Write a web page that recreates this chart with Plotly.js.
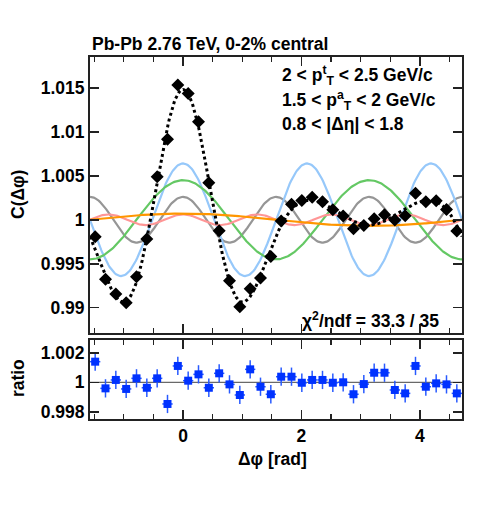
<!DOCTYPE html>
<html><head><meta charset="utf-8">
<script src="https://cdn.plot.ly/plotly-3.0.1.min.js"></script>
<style>html,body{margin:0;padding:0;background:#fff;} #chart{width:488px;height:509px;}</style>
</head><body><div id="chart"></div>
<script>
// ---- data ----
const nBins = 36;
const dphiMin = -Math.PI / 2;
const dphiMax = 3 * Math.PI / 2;
const corrValues = [
  0.99807, 0.99323, 0.99156, 0.99057, 0.99352, 0.99781, 1.00489, 1.00914, 1.01531,
  1.01436, 1.01114, 1.00420, 0.99875, 0.99307, 0.99011, 0.99216, 0.99337, 0.99582,
  0.99985, 1.00175, 1.00220, 1.00255, 1.00205, 1.00114, 1.00044, 0.99898, 0.99936,
  1.00011, 1.00057, 0.99997, 1.00045, 1.00300, 1.00205, 1.00216, 1.00118, 0.99872
];
const corrErrors = new Array(36).fill(0.0006);
const ratioValues = [
  1.00140, 0.99959, 1.00016, 0.99955, 1.00027, 0.99963, 1.00027, 0.99853, 1.00111,
  1.00011, 1.00054, 0.99963, 1.00061, 0.99986, 0.99914, 1.00088, 0.99970, 0.99919,
  1.00038, 1.00038, 0.99997, 1.00016, 1.00016, 0.99997, 1.00000, 0.99919, 0.99988,
  1.00065, 1.00065, 0.99948, 0.99925, 1.00111, 0.99970, 0.99993, 0.99986, 0.99925
];
const ratioErrors = new Array(36).fill(0.00062);
const harmonicOrders = [1, 2, 3, 4, 5];
const harmonicAmps = [0.0007, 0.0045, 0.0064, 0.0026, 0.0006];
const harmonicColors = ['rgb(255,150,0)', 'rgb(100,200,100)', 'rgb(150,200,250)', 'rgb(150,150,150)', 'rgb(255,150,150)'];
const yTicksTop = [0.99, 0.995, 1, 1.005, 1.01, 1.015];
const yTickTextTop = ['0.99', '0.995', '1', '1.005', '1.01', '1.015'];
const yTicksRatio = [0.998, 1, 1.002];
const yTickTextRatio = ['0.998', '1', '1.002'];
const xTicks = [0, 2, 4];
const titleText = 'Pb-Pb 2.76 TeV, 0-2% central';
const infoLines = ['2 < p<sup>t</sup><sub>T</sub> < 2.5 GeV/c', '1.5 < p<sup>a</sup><sub>T</sub> < 2 GeV/c', '0.8 < |Δη| < 1.8'];
const chi2Text = 'χ<sup>2</sup>/ndf = 33.3 / 35';

// ---- derived ----
const binW = (dphiMax - dphiMin) / nBins;
const binCenters = corrValues.map((_, i) => dphiMin + (i + 0.5) * binW);
const nCurve = 300;
const curveX = [];
for (let k = 0; k <= nCurve; k++) curveX.push(dphiMin + k * (dphiMax - dphiMin) / nCurve);

const traces = [];
const drawOrder = [3, 2, 1, 4, 0];
drawOrder.forEach(h => {
  traces.push({
    x: curveX,
    y: curveX.map(x => 1 + harmonicAmps[h] * Math.cos(harmonicOrders[h] * x)),
    mode: 'lines', line: {color: harmonicColors[h], width: 2.2},
    xaxis: 'x', yaxis: 'y', hoverinfo: 'skip'
  });
});
traces.push({
  x: curveX,
  y: curveX.map(x => 1 + harmonicAmps.reduce((s, a, h) => s + a * Math.cos(harmonicOrders[h] * x), 0)),
  mode: 'lines', line: {color: 'black', width: 3, dash: 'dot'},
  xaxis: 'x', yaxis: 'y'
});
traces.push({
  x: binCenters, y: corrValues, mode: 'markers',
  marker: {symbol: 'diamond', size: 10, color: 'black'},
  error_y: {type: 'data', array: corrErrors, color: 'black', thickness: 1.5, width: 0},
  error_x: {type: 'constant', value: binW / 2, color: 'black', thickness: 1.5, width: 0},
  xaxis: 'x', yaxis: 'y'
});
traces.push({
  x: binCenters, y: ratioValues, mode: 'markers',
  marker: {symbol: 'square', size: 8, color: 'rgb(0,50,255)'},
  error_y: {type: 'data', array: ratioErrors, color: 'rgb(40,90,255)', thickness: 1.5, width: 0},
  error_x: {type: 'constant', value: binW / 2, color: 'rgb(40,90,255)', thickness: 1.5, width: 0},
  xaxis: 'x2', yaxis: 'y2'
});

const axCol = '#222';
const fontFam = '"Liberation Sans", Arial, Helvetica, sans-serif';
const fs = 17.5;
const baseX = {
  range: [dphiMin, dphiMax], tickvals: xTicks, ticks: 'inside', ticklen: 9, tickwidth: 1.5, tickcolor: axCol,
  minor: {dtick: 0.5, tick0: 0, ticks: 'inside', ticklen: 5, tickwidth: 1.2, tickcolor: axCol},
  showline: true, linecolor: axCol, linewidth: 2, mirror: 'allticks', showgrid: false, zeroline: false
};
const baseY = {
  ticks: 'inside', ticklen: 9, tickwidth: 1.5, tickcolor: axCol,
  showline: true, linecolor: axCol, linewidth: 2, mirror: 'allticks', showgrid: false, zeroline: false,
  tickfont: {family: fontFam, size: fs, weight: 'bold', color: '#000'}
};
const txtFont = {family: fontFam, size: fs, weight: 'bold', color: '#000'};
const annotations = [
  {text: titleText, xref: 'paper', yref: 'paper', x: 0, y: 1.036, xanchor: 'left', yanchor: 'middle', showarrow: false, font: txtFont},
  {text: infoLines[0], xref: 'paper', yref: 'paper', x: 0.511, y: 0.950, xanchor: 'left', yanchor: 'middle', showarrow: false, font: txtFont},
  {text: infoLines[1], xref: 'paper', yref: 'paper', x: 0.511, y: 0.881, xanchor: 'left', yanchor: 'middle', showarrow: false, font: txtFont},
  {text: infoLines[2], xref: 'paper', yref: 'paper', x: 0.511, y: 0.815, xanchor: 'left', yanchor: 'middle', showarrow: false, font: txtFont},
  {text: chi2Text, xref: 'paper', yref: 'paper', x: 0.5645, y: 0.2735, xanchor: 'left', yanchor: 'middle', showarrow: false, font: txtFont},
  {text: 'C(Δφ)', xref: 'paper', yref: 'paper', x: -0.1935, y: 0.619, xanchor: 'center', yanchor: 'middle', textangle: -90, showarrow: false, font: txtFont},
  {text: 'ratio', xref: 'paper', yref: 'paper', x: -0.1935, y: 0.113, xanchor: 'center', yanchor: 'middle', textangle: -90, showarrow: false, font: txtFont},
  {text: 'Δφ [rad]', xref: 'paper', yref: 'paper', x: 0.49, y: -0.1105, xanchor: 'center', yanchor: 'middle', showarrow: false, font: txtFont}
];

const layout = {
  width: 488, height: 509,
  margin: {l: 90, r: 26, t: 57, b: 90},
  paper_bgcolor: 'white', plot_bgcolor: 'white',
  showlegend: false,
  font: {family: fontFam, size: fs, color: '#000'},
  xaxis: Object.assign({}, baseX, {domain: [0, 1], anchor: 'y', showticklabels: false}),
  yaxis: Object.assign({}, baseY, {domain: [0.2376, 1], anchor: 'x', range: [0.98713, 1.0185], tickvals: yTicksTop, ticktext: yTickTextTop}),
  xaxis2: Object.assign({}, baseX, {domain: [0, 1], anchor: 'y2', showticklabels: true,
    tickfont: {family: fontFam, size: fs, weight: 'bold', color: '#000'}}),
  yaxis2: Object.assign({}, baseY, {domain: [0, 0.2182], anchor: 'x2', range: [0.99751, 1.00287], tickvals: yTicksRatio, ticktext: yTickTextRatio}),
  shapes: [
    {type: 'line', xref: 'x2 domain', yref: 'y2', x0: 0, x1: 1, y0: 1, y1: 1, line: {color: '#444', width: 1}, layer: 'below'}
  ],
  annotations: annotations
};

Plotly.newPlot('chart', traces, layout, {staticPlot: true, displayModeBar: false});
</script>
</body></html>
